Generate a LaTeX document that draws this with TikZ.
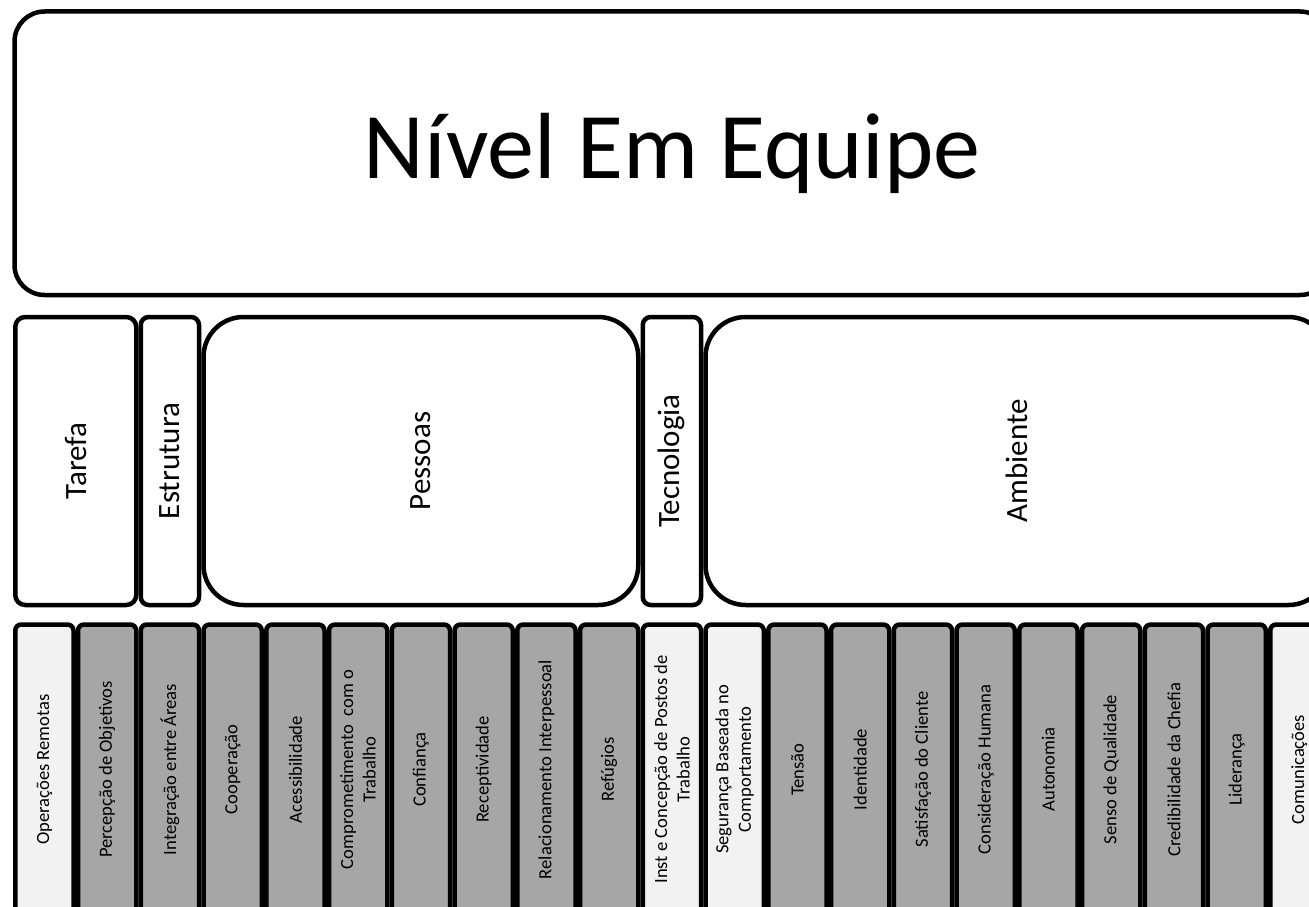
\documentclass[tikz,border=0pt]{standalone}
\usepackage{fontspec}
\setmainfont{Carlito}
\definecolor{lightbox}{HTML}{F2F2F2}
\definecolor{graybox}{HTML}{A6A6A6}
\begin{document}
\begin{tikzpicture}[x=1pt,y=-1pt,
  box/.style={draw=black, line width=4.5pt, inner sep=0pt, fill=white},
  col/.style={box, rotate=90, minimum width=290pt, minimum height=58.25pt,
    rounded corners=6pt, font=\fontsize{18.6}{22.5}\selectfont, align=center},
  mid/.style={box, rotate=90, minimum width=288pt, font=\fontsize{31}{37}\selectfont},
]
\path[use as bounding box] (0,0) rectangle (1309,907);
\clip (0,0) rectangle (1309,907);
\node[box, minimum width=1315.5pt, minimum height=283.5pt, rounded corners=30pt,
  font=\fontsize{94}{110}\selectfont] (top) at (672.25,153.25) {Nível Em Equipe};
\node[mid, minimum height=121pt, rounded corners=10pt] (tarefa) at (75.75,461) {Tarefa};
\node[mid, minimum height=58.25pt, rounded corners=8pt] (estrutura) at (169.875,461) {Estrutura};
\node[mid, minimum height=434.75pt, rounded corners=40pt] (pessoas) at (420.875,461) {Pessoas};
\node[mid, minimum height=58.25pt, rounded corners=8pt] (tecnologia) at (671.875,461) {Tecnologia};
\node[mid, minimum height=623pt, rounded corners=40pt] (ambiente) at (1017,461) {Ambiente};
\foreach \i/\t/\c in {
  1/{Operações Remotas}/lightbox,
  2/{Percepção de Objetivos}/graybox,
  3/{Integração entre Áreas}/graybox,
  4/{Cooperação}/graybox,
  5/{Acessibilidade}/graybox,
  6/{Comprometimento\ \ com o\\Trabalho}/graybox,
  7/{Confiança}/graybox,
  8/{Receptividade}/graybox,
  9/{Relacionamento Interpessoal}/graybox,
  10/{Refúgios}/graybox,
  11/{Inst e Concepção de Postos de\\Trabalho}/lightbox,
  12/{Segurança Baseada no\\Comportamento}/lightbox,
  13/{Tensão}/graybox,
  14/{Identidade}/graybox,
  15/{Satisfação do Cliente}/graybox,
  16/{Consideração Humana}/graybox,
  17/{Autonomia}/graybox,
  18/{Senso de Qualidade}/graybox,
  19/{Credibilidade da Chefia}/graybox,
  20/{Liderança}/graybox,
  21/{Comunicações}/lightbox}
{
  \node[col, fill=\c] (c\i) at ({44.375+62.75*(\i-1)},769.5) {\t};
}
\end{tikzpicture}
\end{document}
